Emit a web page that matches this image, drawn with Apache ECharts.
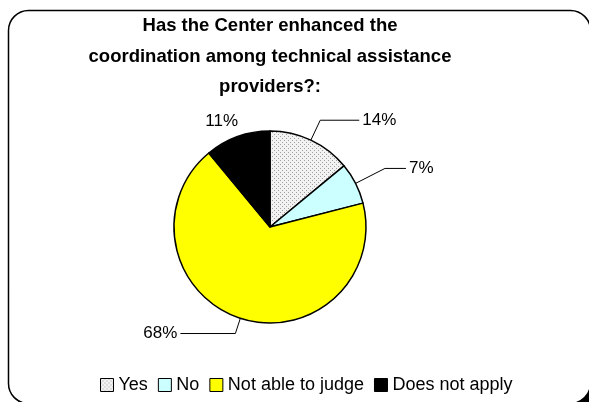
<!DOCTYPE html>
<html>
<head>
<meta charset="utf-8">
<script src="https://cdn.jsdelivr.net/npm/echarts@6/dist/echarts.min.js"></script>
<style>
  html, body { margin: 0; padding: 0; background: #fff; }
  #chart { width: 589px; height: 402px; }
</style>
</head>
<body>
<div id="chart"></div>
<script>
const categories = ["Yes", "No", "Not able to judge", "Does not apply"];
const values = [14, 7, 68, 11];
const colors = ["#e4e4e4", "#ccffff", "#ffff00", "#000000"];
const titleText = "Has the Center enhanced the\ncoordination among technical assistance\nproviders?:";

// dotted fill like the old excel pattern
function dotPattern() {
  const c = document.createElement("canvas");
  c.width = 4;
  c.height = 4;
  const ctx = c.getContext("2d");
  ctx.fillStyle = "#f2f2f2";
  ctx.fillRect(0, 0, 4, 4);
  ctx.fillStyle = "#a0a0a0";
  ctx.fillRect(0, 0, 1, 1);
  ctx.fillRect(2, 2, 1, 1);
  return c;
}

// label line lengths per slice
const lineLen = [
  { length: 22, length2: 39 },
  { length: 33, length2: 21 },
  { length: 16, length2: 55 },
  { length: 16, length2: 0, show: false },
];
const labelGap = [3, 3, 3, -6];

const chart = echarts.init(document.getElementById("chart"));

const data = categories.map((name, i) => ({
  name: name,
  value: values[i],
  itemStyle: {
    color: i === 0 ? { image: dotPattern(), repeat: "repeat" } : colors[i],
  },
  labelLine: lineLen[i],
  label: { distanceToLabelLine: labelGap[i] },
}));

chart.setOption({
  animation: false,
  graphic: [
    {
      // shadow behind the frame, only its corner shows
      type: "rect",
      shape: { x: 14.5, y: 16.5, width: 582, height: 393, r: 20 },
      style: { fill: "#000" },
      z: -2,
    },
    {
      type: "rect",
      shape: { x: 8.5, y: 10.5, width: 582, height: 393, r: 20 },
      style: { fill: "#fff", stroke: "#000", lineWidth: 1.5 },
      z: -1,
    },
  ],
  title: {
    text: titleText,
    left: 265,
    textAlign: "center",
    top: 6,
    textStyle: {
      fontFamily: "Liberation Sans, Arial, sans-serif",
      fontSize: 18.5,
      fontWeight: "bold",
      color: "#000",
      lineHeight: 30.5,
    },
  },
  legend: {
    data: categories,
    left: 95,
    top: 371,
    icon: "rect",
    itemWidth: 13,
    itemHeight: 13,
    itemGap: 10,
    itemStyle: { borderColor: "#000", borderWidth: 1 },
    textStyle: {
      fontFamily: "Liberation Sans, Arial, sans-serif",
      fontSize: 18,
      color: "#000",
    },
  },
  series: [
    {
      type: "pie",
      center: [270, 227],
      radius: 96,
      startAngle: 90,
      clockwise: true,
      avoidLabelOverlap: false,
      data: data,
      itemStyle: { borderColor: "#000", borderWidth: 1.5 },
      label: {
        show: true,
        position: "outside",
        formatter: "{c}%",
        fontFamily: "Liberation Sans, Arial, sans-serif",
        fontSize: 17,
        color: "#000",
      },
      labelLine: {
        show: true,
        lineStyle: { color: "#000", width: 1 },
      },
      emphasis: { disabled: true },
    },
  ],
});
</script>
</body>
</html>
